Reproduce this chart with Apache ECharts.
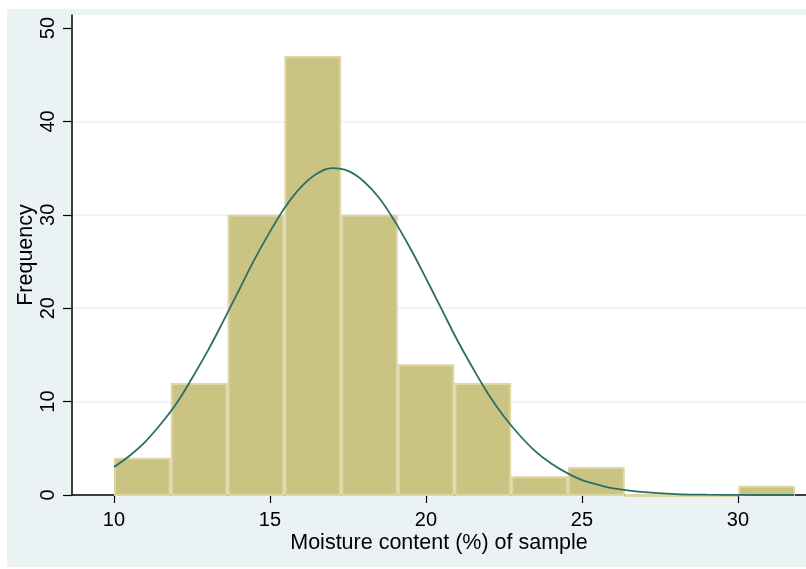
<!DOCTYPE html>
<html>
<head>
<meta charset="utf-8">
<script src="https://cdn.jsdelivr.net/npm/echarts@6/dist/echarts.min.js"></script>
<style>
  html, body { margin: 0; padding: 0; background: #fff; }
  #main { width: 806px; height: 569px; }
</style>
</head>
<body>
<div id="main"></div>
<script>
// histogram bins (moisture %)
const binEdges = [10, 11.82, 13.64, 15.46, 17.28, 19.1, 20.91, 22.73, 24.55, 26.37, 28.19, 30.01, 31.83];
const binCounts = [4, 12, 30, 47, 30, 14, 12, 2, 3, 0, 0, 1];

// normal overlay, read point by point
const curveX = [10, 10.5, 11, 11.5, 12, 12.5, 13, 13.5, 14, 14.5, 15, 15.5, 16, 16.5, 17, 17.5, 18, 18.5, 19, 19.5,
    20, 20.5, 21, 21.5, 22, 22.5, 23, 23.5, 24, 24.5, 25, 25.5, 26, 27, 28, 29, 30, 31, 31.8];
const curveY = [3.0, 4.2, 5.7, 7.6, 9.8, 12.5, 15.4, 18.6, 21.9, 25.2, 28.2, 30.9, 33.0, 34.4, 35.0, 34.7, 33.6, 31.8, 29.3, 26.4,
    23.2, 19.9, 16.6, 13.6, 10.8, 8.4, 6.4, 4.7, 3.4, 2.4, 1.6, 1.1, 0.7, 0.3, 0.1, 0.04, 0.01, 0, 0];

const xTicks = [10, 15, 20, 25, 30];
const yTicks = [0, 10, 20, 30, 40, 50];

const bars = binCounts.map((c, i) => [binEdges[i], binEdges[i + 1], c]);
const curve = curveX.map((x, i) => [x, curveY[i]]);

const font = 'Liberation Sans, Arial, sans-serif';

let chart = echarts.init(document.getElementById('main'));

chart.setOption({
    animation: false,
    backgroundColor: '#fff',
    graphic: [{
        type: 'rect',
        z: -10,
        shape: { x: 7, y: 9, width: 799, height: 558 },
        style: { fill: '#eaf2f3' }
    }],
    grid: {
        left: 72,
        right: 0,
        top: 15,
        bottom: 74,
        outerBoundsMode: 'none',
        containLabel: false,
        show: true,
        backgroundColor: '#fff',
        borderWidth: 0
    },
    xAxis: {
        type: 'value',
        min: 8.654,
        max: 32.18,
        name: 'Moisture content (%) of sample',
        nameLocation: 'middle',
        nameGap: 37,
        nameMoveOverlap: false,
        nameTextStyle: { fontFamily: font, fontSize: 21.5, color: '#000' },
        axisLine: { lineStyle: { color: '#000', width: 1.5 } },
        axisTick: { customValues: xTicks, length: 8, lineStyle: { color: '#000', width: 1.2 } },
        axisLabel: { customValues: xTicks, margin: 15, fontFamily: font, fontSize: 20, color: '#000' },
        splitLine: { show: false }
    },
    yAxis: {
        type: 'value',
        min: 0,
        max: 51.4,
        name: 'Frequency',
        nameLocation: 'middle',
        nameRotate: 90,
        nameGap: 34.5,
        nameMoveOverlap: false,
        nameTextStyle: { fontFamily: font, fontSize: 21.5, color: '#000' },
        axisLine: { show: true, lineStyle: { color: '#000', width: 1.5 } },
        axisTick: { show: true, customValues: yTicks, length: 9, lineStyle: { color: '#000', width: 1.2 } },
        axisLabel: { customValues: yTicks, rotate: 90, margin: 14, fontFamily: font, fontSize: 20, color: '#000' },
        splitLine: { show: true, showMaxLine: false, lineStyle: { color: '#eaf2f3', width: 1.5 } }
    },
    series: [{
        type: 'custom',
        data: bars,
        encode: { x: [0, 1], y: 2 },
        renderItem: (params, api) => {
            let p0 = api.coord([api.value(0), api.value(2)]);
            let p1 = api.coord([api.value(1), 0]);
            return {
                type: 'rect',
                shape: { x: p0[0] + 1, y: p0[1] + 1, width: p1[0] - p0[0] - 2, height: p1[1] - p0[1] - 1 },
                style: { fill: '#cbc381', stroke: '#ddd7a6', lineWidth: 2 }
            };
        }
    }, {
        type: 'line',
        data: curve,
        smooth: 0.4,
        showSymbol: false,
        lineStyle: { color: '#2b6e68', width: 1.8 },
        z: 5
    }]
});
</script>
</body>
</html>
